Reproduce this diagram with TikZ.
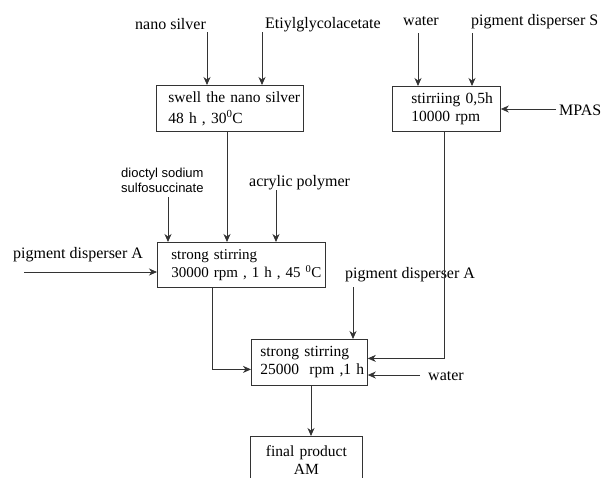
\documentclass[tikz,border=0pt]{standalone}
\usepackage{fontspec}
\setmainfont{Liberation Serif}
\setsansfont{Liberation Sans}
\usetikzlibrary{arrows.meta}
\definecolor{ln}{HTML}{333333}
\newcommand{\ind}[2]{\hspace*{#1}\mbox{#2}}
\begin{document}
\begin{tikzpicture}[x=1pt,y=-1pt,
  box/.style={draw=ln, line width=0.8pt, inner sep=0pt, align=left, anchor=north west,
    font=\fontsize{15.5}{18}\selectfont},
  lab/.style={inner sep=0pt, anchor=base west, font=\fontsize{16}{18}\selectfont},
  arr/.style={draw=ln, line width=0.8pt, -{Stealth[length=8pt,width=7pt,inset=2.5pt]}}]
\useasboundingbox (0,0) rectangle (602,477);

% boxes
\node[box, text width=147pt, minimum height=46pt] (b1) at (156,85)
  {\ind{12pt}{swell the nano silver}\\[3pt]\ind{12pt}{48 h , 30\textsuperscript{0}C}};
\node[box, text width=108pt, minimum height=45pt] (b2) at (392,86)
  {\ind{19pt}{stirriing 0,5h}\\\ind{19pt}{10000 rpm}};
\node[box, text width=168pt, minimum height=45pt, font=\fontsize{15}{18}\selectfont] (b3) at (157,242)
  {\ind{14pt}{strong stirring}\\\ind{14pt}{30000 rpm , 1 h , 45 \textsuperscript{0}C}};
\node[box, text width=116pt, minimum height=46pt] (b4) at (251,339)
  {\ind{9pt}{strong stirring}\\\ind{9pt}{25000\ \ rpm ,1 h}};
\node[box, text width=112pt, minimum height=48pt, align=center] (b5) at (250,436)
  {final product\\AM};

% labels
\node[lab] (l_ns) at (135,29) {nano silver};
\node[lab] (l_eg) at (265,28) {Etiylglycolacetate};
\node[lab] (l_w1) at (403,25) {water};
\node[lab] (l_ps) at (471,25) {pigment disperser S};
\node[lab] (l_mp) at (559,115) {MPAS};
\node[inner sep=0pt, anchor=north west, align=left, font=\sffamily\fontsize{13}{15}\selectfont]
  (l_do) at (121,167.5) {dioctyl sodium\\sulfosuccinate};
\node[lab] (l_ac) at (249,186) {acrylic polymer};
\node[lab] (l_pa) at (13,258) {pigment disperser A};
\node[lab] (l_pa2) at (345,278) {pigment disperser A};
\node[lab] (l_w2) at (428,380) {water};

% arrow starts
\coordinate (c_ns) at (207,32);
\coordinate (c_eg) at (262,32);
\coordinate (c_w1) at (418,33);
\coordinate (c_ps) at (472,33);
\coordinate (c_mp) at (556,109);
\coordinate (c_do) at (168,197);
\coordinate (c_ac) at (276,190);
\coordinate (c_pa) at (24,272);
\coordinate (c_pa2) at (353,287);
\coordinate (c_w2) at (420,375);

% connectors
\draw[arr] (c_ns) -- (c_ns |- b1.north);
\draw[arr] (c_eg) -- (c_eg |- b1.north);
\draw[arr] (c_w1) -- (c_w1 |- b2.north);
\draw[arr] (c_ps) -- (c_ps |- b2.north);
\draw[arr] (c_mp) -- (c_mp -| b2.east);
\draw[arr] ([xshift=71pt]b1.south west) -- ([xshift=70pt]b3.north west);
\draw[arr] (c_do) -- (c_do |- b3.north);
\draw[arr] (c_ac) -- (c_ac |- b3.north);
\draw[arr] (c_pa) -- (c_pa -| b3.west);
\draw[arr] ([xshift=55pt]b3.south west) |- ([yshift=-7pt]b4.west);
\draw[arr] ([xshift=52pt]b2.south west) |- ([yshift=4pt]b4.east);
\draw[arr] (c_pa2) -- (c_pa2 |- b4.north);
\draw[arr] (c_w2) -- (c_w2 -| b4.east);
\draw[arr] ([xshift=60pt]b4.south west) -- ([xshift=61pt]b5.north west);
\end{tikzpicture}
\end{document}
